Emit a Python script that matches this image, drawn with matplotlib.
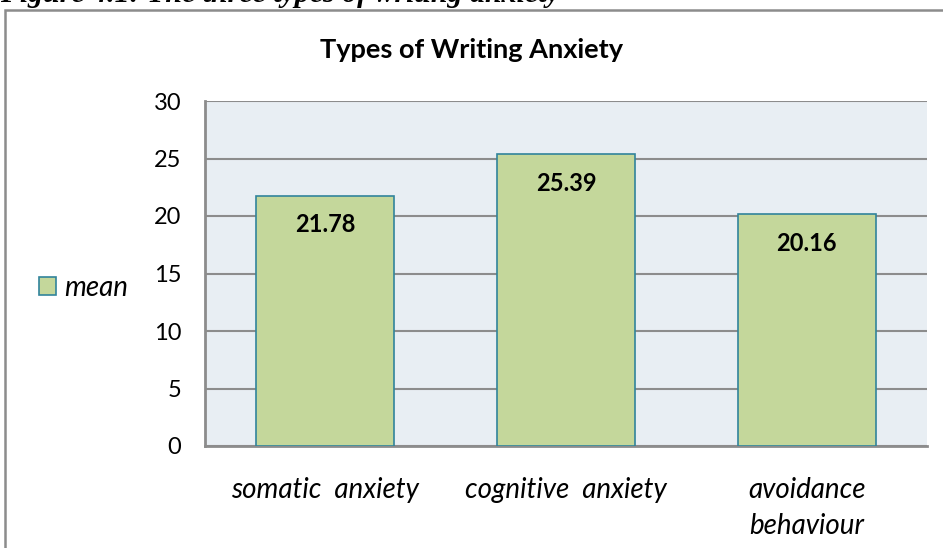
import matplotlib.pyplot as plt
from matplotlib.patches import Rectangle, Patch

categories = ['somatic  anxiety', 'cognitive  anxiety', 'avoidance\nbehaviour']
means = [21.78, 25.39, 20.16]
yticks = [0, 5, 10, 15, 20, 25, 30]

bar_color = '#c4d79b'
edge_color = '#31849b'
grid_color = '#8c8c8c'

fig = plt.figure(figsize=(9.43, 5.48), dpi=100)

# caption of the page, mostly cut off at the top
fig.text(0.0, 1 - 1.5 / 548, 'Figure 4.1: The three types of writing anxiety',
         family='Liberation Serif', fontsize=21.5, fontweight='bold',
         fontstyle='italic', va='baseline', ha='left')

# outer chart border (right and bottom run off the picture)
fig.patches.append(Rectangle((4.5 / 943, -0.1), 1.2, 1.1 - 9.5 / 548,
                             transform=fig.transFigure, fill=False,
                             edgecolor='#8c8c8c', linewidth=1.8))

ax = fig.add_axes([205 / 943, 1 - 446 / 548, (927 - 205) / 943, (446 - 101) / 548])
ax.set_facecolor('#e8eef3')

x = range(len(categories))
ax.bar(x, means, width=0.573, color=bar_color, edgecolor=edge_color,
       linewidth=1.2, zorder=3, label='mean')

for xi, v in zip(x, means):
    ax.annotate(f'{v:.2f}', (xi, v), xytext=(0, -21), textcoords='offset points',
                ha='center', va='center', fontsize=17, fontweight='bold',
                family='Lato', zorder=4)

ax.set_xlim(-0.5, 2.5)
ax.set_ylim(0, 30)
ax.set_yticks(yticks)
ax.set_xticks(list(x))
ax.set_xticklabels(categories, fontstyle='italic', fontsize=20, family='Lato',
                   linespacing=1.45)
for lab in ax.get_yticklabels():
    lab.set_fontsize(17)
    lab.set_family('Lato')
ax.tick_params(axis='both', length=0)
ax.tick_params(axis='y', pad=17)
ax.tick_params(axis='x', pad=22.5)

ax.yaxis.grid(True, color=grid_color, linewidth=1.5, zorder=1)
ax.set_axisbelow(True)
for s in ['top', 'right']:
    ax.spines[s].set_visible(False)
for s in ['left', 'bottom']:
    ax.spines[s].set_color(grid_color)
    ax.spines[s].set_linewidth(2)

fig.text(0.5, 1 - 50 / 548, 'Types of Writing Anxiety', ha='center', va='center',
         fontsize=19.5, fontweight='bold', family='Lato')

handle = Patch(facecolor=bar_color, edgecolor=edge_color, linewidth=1.2)
fig.legend([handle], ['mean'], loc='center left',
           bbox_to_anchor=(14 / 943, 1 - 288 / 548), frameon=False,
           prop={'family': 'Lato', 'style': 'italic', 'size': 20},
           handlelength=0.6, handleheight=0.6, handletextpad=0.3)

fig.savefig('out.png', dpi=100)
